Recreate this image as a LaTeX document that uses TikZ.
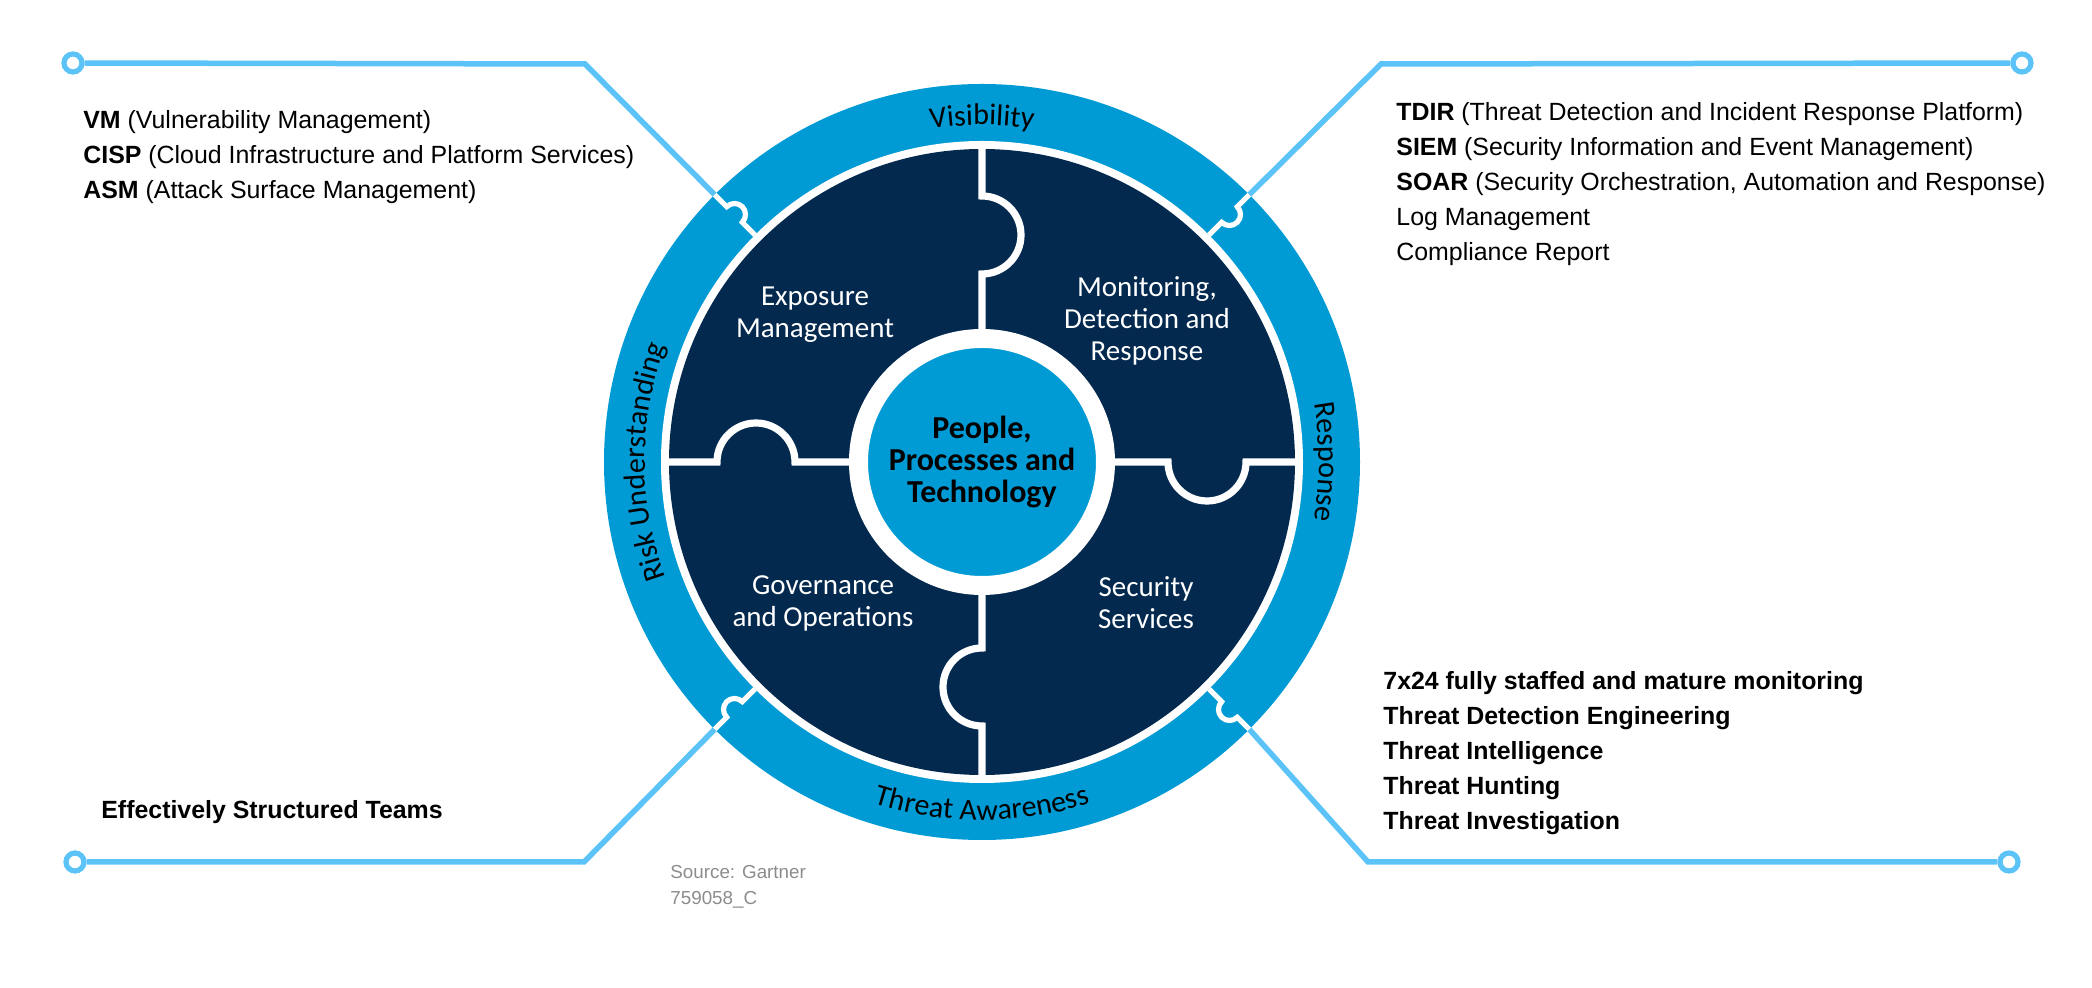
\documentclass[tikz,border=0pt]{standalone}
\usepackage{fontspec}
\setmainfont{Liberation Sans}
\newfontfamily\diagfont{Carlito}
\usetikzlibrary{decorations.text}
\definecolor{ringblue}{HTML}{009AD4}
\definecolor{deepnavy}{HTML}{03294F}
\definecolor{wireblue}{HTML}{5BC3F8}
\definecolor{srcgray}{HTML}{8C8C8C}
\newcommand\ringfont{\diagfont\fontsize{15}{15}\selectfont}
\tikzset{wire/.style={wireblue,line width=2.75pt,line join=miter},
  hole/.style={circle,draw=wireblue,fill=white,line width=2.6pt,minimum size=9pt,inner sep=0pt},
  ringcut/.style={white,line width=2.6pt},
  seam/.style={white,line width=3.6pt},
  core/.style={circle,fill=ringblue,draw=white,line width=9.5pt,minimum size=123.5pt,inner sep=0pt,
    align=center,font=\diagfont\bfseries\fontsize{16}{16}\selectfont},
  piece/.style={text=white,align=center,font=\diagfont\fontsize{14.5}{16}\selectfont},
  listtext/.style={anchor=west,align=left,inner sep=0pt,font=\fontsize{12.45}{17.5}\selectfont},
  ringtext/.style={decorate,decoration={text along path,text align=center,text={|\ringfont|#1}}}}

\begin{document}
\begin{tikzpicture}[x=0.5pt,y=0.5pt]
  \path[use as bounding box] (-982,-526) rectangle (1110,462);
  \coordinate (tlBend) at (-397,398);
  \coordinate (trBend) at (399,398);
  \coordinate (blBend) at (-398,-400);
  \coordinate (brBend) at (386,-400);
  \foreach \n/\a in {tl/135,tr/45,bl/225,br/315}
    \coordinate (\n Joint) at (\a:378);
  \node[hole] (tlEnd) at (-909,399) {};
  \node[hole] (trEnd) at (1040,399) {};
  \node[hole] (blEnd) at (-907,-400) {};
  \node[hole] (brEnd) at (1027,-400) {};
  \draw[wire] (tlEnd) -- (tlBend) -- (tlJoint);
  \draw[wire] (trEnd) -- (trBend) -- (trJoint);
  \draw[wire] (blEnd) -- (blBend) -- (blJoint);
  \draw[wire] (brEnd) -- (brBend) -- (brJoint);

  \fill[ringblue] (0,0) circle[radius=378];
  \fill[white] (0,0) circle[radius=321];
  \fill[deepnavy] (0,0) circle[radius=313];
  \draw[seam] (0,318) -- (0,266) arc[start angle=90,end angle=-90,radius=39] -- (0,133);
  \draw[seam] (0,-318) -- (0,-264) arc[start angle=270,end angle=90,radius=39] -- (0,-133);
  \draw[seam] (-318,0) -- (-265,0) arc[start angle=180,end angle=0,radius=39] -- (-133,0);
  \draw[seam] (133,0) -- (186,0) arc[start angle=180,end angle=360,radius=39] -- (318,0);
  \foreach \a in {45,135,225,315}
    \draw[ringcut,rotate=\a] (321,0) -- (339,0) arc[start angle=180,end angle=360,radius=11] -- (378,0);
  \node[core] (core) at (0,0) {People,\\Processes and\\Technology};

  \node[piece] (expo) at (-167,147) {Exposure\\Management};
  \node[piece] (mdr) at (165,141) {Monitoring,\\Detection and\\Response};
  \node[piece] (gov) at (-159,-141) {Governance\\and Operations};
  \node[piece] (sec) at (164,-141) {Security\\Services};

  \path[ringtext=Visibility] (150:337) arc[start angle=150,end angle=30,radius=337];
  \path[ringtext=Risk Understanding] (245:337) arc[start angle=245,end angle=115,radius=337];
  \path[ringtext=Response] (60:337) arc[start angle=60,end angle=-60,radius=337];
  \path[ringtext=Threat Awareness] (205:358) arc[start angle=205,end angle=335,radius=358];

  \node[listtext] (tlList) at (-899,305) {\textbf{VM} (Vulnerability Management)\\
    \textbf{CISP} (Cloud Infrastructure and Platform Services)\\
    \textbf{ASM} (Attack Surface Management)};
  \node[listtext] (trList) at (414,278) {\textbf{TDIR} (Threat Detection and Incident Response Platform)\\
    \textbf{SIEM} (Security Information and Event Management)\\
    \textbf{SOAR} (Security Orchestration, Automation and Response)\\
    Log Management\\
    Compliance Report};
  \node[listtext,font=\bfseries\fontsize{12.45}{17.5}\selectfont] (brList) at (401,-291) {7x24 fully staffed and mature monitoring\\
    Threat Detection Engineering\\
    Threat Intelligence\\
    Threat Hunting\\
    Threat Investigation};
  \node[listtext,font=\bfseries\fontsize{12.45}{17.5}\selectfont] (blList) at (-881,-350) {Effectively Structured Teams};
  \node[listtext,text=srcgray,font=\fontsize{9.4}{13}\selectfont] (source) at (-312,-425) {Source: Gartner\\759058\_C};
\end{tikzpicture}
\end{document}
